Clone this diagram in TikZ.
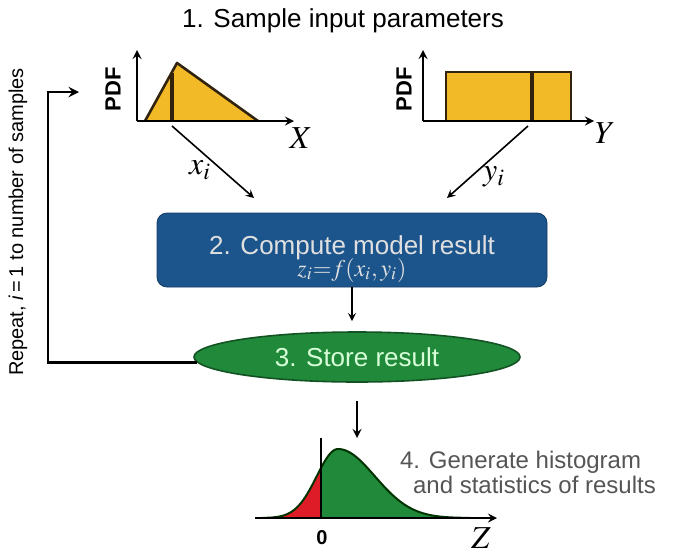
\documentclass[tikz,border=0pt]{standalone}
\usepackage{mathptmx}
\usepackage{fontspec}
\setmainfont{Liberation Serif}
\setsansfont{Liberation Sans}
\usepackage{tikz}
\usetikzlibrary{positioning}
\usetikzlibrary{shapes.geometric}
\usepackage{xcolor}
\definecolor{pdfyellow}{RGB}{242,186,38}
\definecolor{pdfedge}{RGB}{50,35,15}
\definecolor{modelblue}{RGB}{28,84,140}
\definecolor{storegreen}{RGB}{32,138,58}
\definecolor{tailred}{RGB}{222,28,40}
\definecolor{stepgray}{RGB}{85,85,85}

\begin{document}
\begin{tikzpicture}[x=0.5pt,y=-0.5pt,>=stealth,
    axis/.style={->, line width=1pt},
    flow/.style={->, line width=0.8pt},
    sans/.style={font=\sffamily\fontsize{13}{15}\selectfont},
    pdflabel/.style={rotate=90, font=\sffamily\bfseries\fontsize{11}{13}\selectfont},
    varlabel/.style={font=\fontsize{16}{18}\selectfont},
    modelbox/.style={draw=modelblue!70!black, fill=modelblue, rounded corners=5pt,
        minimum width=195pt, minimum height=37pt, inner ysep=1pt, align=center, text=white!88!black},
    storeell/.style={ellipse, draw=storegreen!60!black, line width=0.8pt, fill=storegreen,
        minimum width=163pt, minimum height=25pt, inner sep=0pt, text=white!85!green}]
    \useasboundingbox (0,0) rectangle (689,552);

    % Title
    \node[sans] (title) at (343,21) {1. Sample input parameters};

    % Draw PDF of X (triangular)
    \fill[pdfyellow] (145,121) -- (177,63) -- (258,121) -- cycle;
    \draw[pdfedge, line width=1.3pt, line join=round] (145,121) -- (177,63) -- (258,121);
    \draw[pdfedge, line width=2pt] (172,121) -- (172,73);
    \draw[axis] (137,121) -- (137,50);
    \draw[axis] (137,121) -- (294,121);
    \node[pdflabel] (pdfx) at (113,89) {PDF};
    \node[varlabel] (xaxis) at (301,138) {$X$};

    % Draw PDF of Y (uniform)
    \fill[pdfyellow] (446,72) rectangle (571,121);
    \draw[pdfedge, line width=1.3pt] (446,121) -- (446,72) -- (571,72) -- (571,121);
    \draw[pdfedge, line width=2pt] (532,121) -- (532,72);
    \draw[axis] (423,121) -- (423,50);
    \draw[axis] (423,121) -- (594,121);
    \node[pdflabel] (pdfy) at (404,89) {PDF};
    \node[varlabel] (yaxis) at (605,133) {$Y$};

    % Sampled values into the model
    \coordinate (xsamp) at (172,126);
    \coordinate (xin) at (254,198);
    \coordinate (ysamp) at (528,126);
    \coordinate (yin) at (447,198);
    \draw[flow] (xsamp) -- (xin);
    \draw[flow] (ysamp) -- (yin);
    \node[varlabel] (xi) at (200,170) {$x_i$};
    \node[varlabel] (yi) at (494,177) {$y_i$};

    % Model and storage
    \node[modelbox] (model) at (352,250)
        {\sffamily\fontsize{13}{17}\selectfont\rule{0pt}{18pt}2. Compute model result\\[-1pt]
         \fontsize{12}{14}\selectfont $z_i{=}f(x_i,y_i)$};
    \node[storeell] (store) at (357,357) {\sffamily\fontsize{13}{15}\selectfont 3. Store result};
    \draw[flow, shorten >=5pt] (model.south) -- (model.south |- store.north);

    % Repeat loop
    \coordinate (loopend) at (79,92);
    \coordinate (loopside) at (48,92);
    \draw[flow, line width=1.3pt] (store.182) -| (loopside) -- (loopend);
    \node[rotate=90, font=\sffamily\fontsize{10}{12}\selectfont] (repeat) at (18,222)
        {Repeat, \textit{i}\,=\,1 to number of samples};

    % Histogram of results
    \coordinate (histin) at (357,438);
    \draw[flow, line width=1pt, shorten <=9pt] (store.south) -- (histin);
    \def\zcurve{plot[domain=262:338,samples=40] (\x,{518-69*exp(-(((\x-338)/30)^2))})
        -- plot[domain=338:470,samples=50] (\x,{518-69*exp(-(((\x-338)/52)^2))})}
    \fill[storegreen] \zcurve -- cycle;
    \begin{scope}
        \clip (250,420) rectangle (321,525);
        \fill[tailred] \zcurve -- cycle;
    \end{scope}
    \draw[line width=1pt, black!80!green] \zcurve;
    \draw[axis] (255,518) -- (497,518);
    \draw[line width=1.2pt] (321,518) -- (321,438);
    \node[font=\sffamily\bfseries\fontsize{10}{12}\selectfont] (zero) at (322,538) {0};
    \node[varlabel, anchor=base] (zaxis) at (481,548) {$Z$};
    \node[anchor=west, text=stepgray, font=\sffamily\fontsize{12}{14}\selectfont] (gen1) at (393,462) {4. Generate histogram};
    \node[anchor=west, text=stepgray, font=\sffamily\fontsize{12}{14}\selectfont] (gen2) at (406,485) {and statistics of results};
\end{tikzpicture}
\end{document}
